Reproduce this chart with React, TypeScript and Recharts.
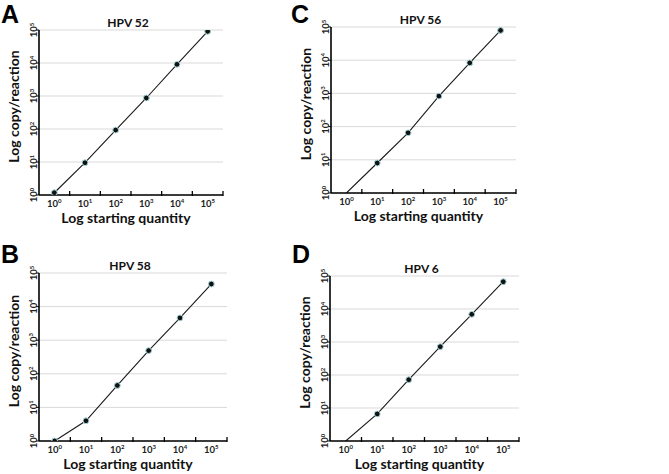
import React from 'react';
import { LineChart, Line, XAxis, YAxis, CartesianGrid } from 'recharts';

// starting quantity (x) and log ticks (y)
const startingQuantity = [1, 10, 100, 1000, 10000, 100000];
const yTicks = [1, 10, 100, 1000, 10000, 100000];

// copies per reaction
const hpv52Copies = [1.17, 9.5, 93, 870, 9100, 91000];
const hpv56Copies = [1, 8, 65, 830, 8300, 79000];
const hpv58Copies = [1, 4, 45, 490, 4600, 47000];
const hpv6Copies = [1, 6.6, 72, 720, 6900, 67000];

const FONT = "Lato, 'Open Sans', sans-serif";
const TOP = 30;
const YW = 39;
const XH = 42;
const RIGHT = 10;

interface PanelProps {
  letter: string;
  title: string;
  copies: number[];
  firstDot: number;
  left: number;
  top: number;
  plotW: number;
  plotH: number;
  letterPos: [number, number];
}

const exponent = (v: number) => Math.round(Math.log10(v));

function Panel({ letter, title, copies, firstDot, left, top, plotW, plotH, letterPos }: PanelProps) {
  const data = startingQuantity.map((q, i) => ({ q, copies: copies[i] }));
  const axisY = TOP + plotH;
  const band = plotW / 6;

  const xTick = (p: any) => (
    <g>
      <text x={p.x} y={axisY + 8} textAnchor="middle" dominantBaseline="central" fontFamily={FONT} fontWeight={700} fontSize={9.5} fill="#222">
        10<tspan dy={-3} fontSize={6}>{exponent(p.payload.value)}</tspan>
      </text>
      <line x1={p.x + band / 2} x2={p.x + band / 2} y1={axisY - 4} y2={axisY + 1} stroke="#000" strokeWidth={1.3} />
    </g>
  );

  const yTick = (p: any) => {
    const cx = YW - 5.5;
    return (
      <text transform={`rotate(-90 ${cx} ${p.y})`} x={cx} y={p.y} textAnchor="middle" dominantBaseline="central" fontFamily={FONT} fontWeight={700} fontSize={9.5} fill="#222">
        10<tspan dy={-3} fontSize={6}>{exponent(p.payload.value)}</tspan>
      </text>
    );
  };

  const yLabel = (p: any) => {
    const vb = p.viewBox;
    const cx = vb.x + 13;
    const cy = vb.y + vb.height / 2 - 6;
    return (
      <text transform={`rotate(-90 ${cx} ${cy})`} x={cx} y={cy} textAnchor="middle" dominantBaseline="central" fontFamily={FONT} fontWeight={700} fontSize={14} fill="#111">
        Log copy/reaction
      </text>
    );
  };

  const xLabel = (p: any) => {
    const vb = p.viewBox;
    return (
      <text x={vb.x + vb.width / 2 - 5} y={vb.y + 22} textAnchor="middle" dominantBaseline="central" fontFamily={FONT} fontWeight={700} fontSize={14} fill="#111">
        Log starting quantity
      </text>
    );
  };

  const width = YW + plotW + RIGHT;
  const height = TOP + plotH + XH;

  return (
    <>
      <div style={{ position: 'absolute', left, top, width, height }}>
        <div style={{ position: 'absolute', left: YW + plotW / 2 - 3 - 40, width: 80, top: TOP - 14, lineHeight: '14px', textAlign: 'center', fontFamily: FONT, fontWeight: 700, fontSize: 12, color: '#111' }}>
          {title}
        </div>
        <LineChart width={width} height={height} data={data} margin={{ top: TOP, right: RIGHT, left: 0, bottom: 0 }}>
          <CartesianGrid vertical={false} stroke="#d9d9d9" strokeWidth={1} />
          <XAxis
            dataKey="q"
            type="number"
            scale="log"
            domain={[Math.pow(10, -0.5), Math.pow(10, 5.5)]}
            allowDataOverflow
            ticks={startingQuantity}
            interval={0}
            height={XH}
            axisLine={{ stroke: '#000', strokeWidth: 1.6 }}
            tickLine={false}
            tick={xTick}
            label={xLabel}
          />
          <YAxis
            type="number"
            scale="log"
            domain={[1, 100000]}
            allowDataOverflow
            ticks={yTicks}
            interval={0}
            width={YW}
            axisLine={{ stroke: '#000', strokeWidth: 1.6 }}
            tickLine={{ stroke: '#000' }}
            tickSize={3}
            tick={yTick}
            label={yLabel}
          />
          <Line
            dataKey="copies"
            stroke="#1a1a1a"
            strokeWidth={1.1}
            isAnimationActive={false}
            dot={(p: any) =>
              p.index < firstDot ? (
                <g key={p.index} />
              ) : (
                <circle key={p.index} cx={p.cx} cy={p.cy} r={2.9} fill="#111" stroke="#a5d7dc" strokeWidth={1} />
              )
            }
          />
        </LineChart>
      </div>
      <div style={{ position: 'absolute', zIndex: 2, left: letterPos[0], top: letterPos[1], fontFamily: "'Liberation Sans', Arial, sans-serif", fontWeight: 700, fontSize: 25, lineHeight: '29px', color: '#000' }}>
        {letter}
      </div>
    </>
  );
}

export default function App() {
  return (
    <div style={{ position: 'absolute', left: 0, top: 0, width: 669, height: 474, background: '#fff', overflow: 'hidden' }}>
      <Panel letter="A" title="HPV 52" copies={hpv52Copies} firstDot={0} left={0} top={0} plotW={184} plotH={165} letterPos={[1, 0]} />
      <Panel letter="C" title="HPV 56" copies={hpv56Copies} firstDot={1} left={292} top={-3} plotW={185} plotH={166} letterPos={[291, 0]} />
      <Panel letter="B" title="HPV 58" copies={hpv58Copies} firstDot={0} left={0} top={243} plotW={188} plotH={168} letterPos={[1, 240]} />
      <Panel letter="D" title="HPV 6" copies={hpv6Copies} firstDot={1} left={291} top={246} plotW={189} plotH={165} letterPos={[292, 240]} />
    </div>
  );
}
